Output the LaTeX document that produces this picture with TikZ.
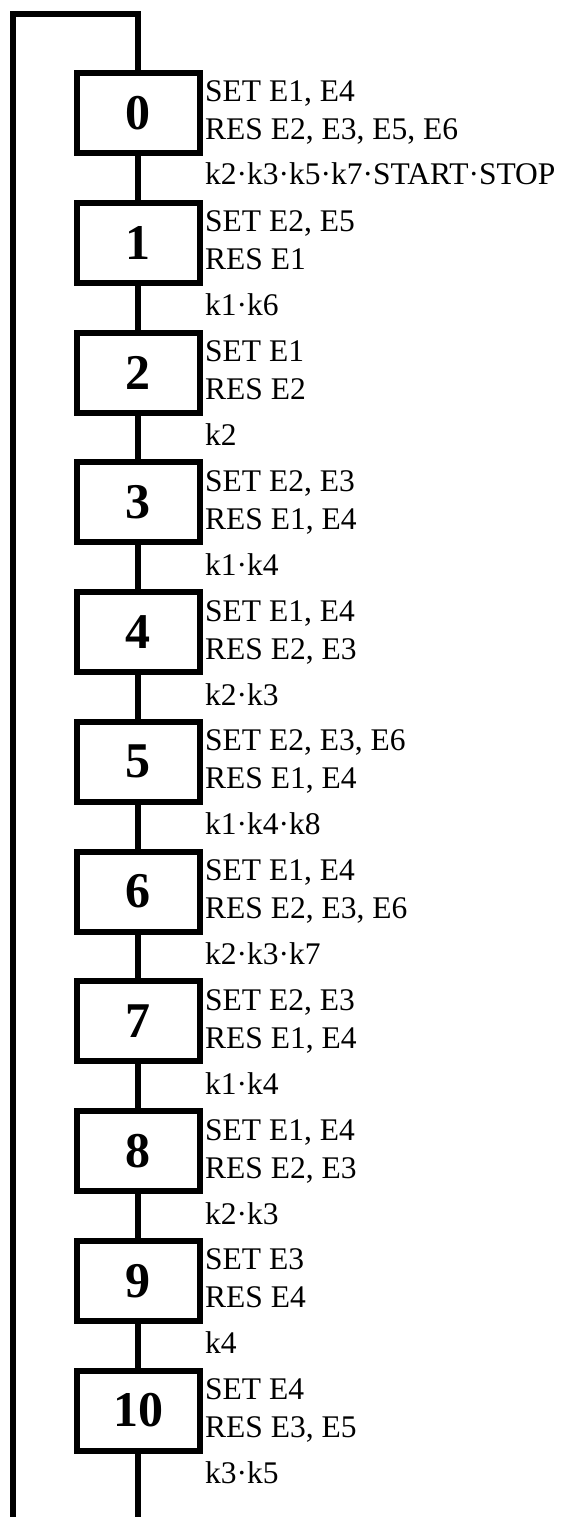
\documentclass[tikz,border=0pt]{standalone}
\usepackage{fontspec}
\setmainfont{Liberation Serif}
\usetikzlibrary{positioning}

\begin{document}
\begin{tikzpicture}[x=1pt,y=-1pt]
\tikzset{
  ST/.style={draw=black,line width=6pt,rectangle,minimum width=123pt,minimum height=80pt,inner sep=0pt,font=\fontsize{50}{50}\selectfont\bfseries},
  AC/.style={anchor=base west,inner sep=0pt,font=\fontsize{31.5}{31.5}\selectfont},
  WL/.style={line width=6pt,black},
}
\useasboundingbox (0,0) rectangle (564,1517);

% steps
\node[ST](s0)  at (138, 113.0){0};
\node[ST](s1)  at (138, 242.8){1};
\node[ST](s2)  at (138, 372.5){2};
\node[ST](s3)  at (138, 502.3){3};
\node[ST](s4)  at (138, 632.0){4};
\node[ST](s5)  at (138, 761.8){5};
\node[ST](s6)  at (138, 891.5){6};
\node[ST](s7)  at (138,1021.3){7};
\node[ST](s8)  at (138,1151.0){8};
\node[ST](s9)  at (138,1280.8){9};
\node[ST](s10) at (138,1410.5){10};

% actions
\node[AC](set0)  at (205, 102.0){SET E1, E4};
\node[AC](res0)  at (205, 140.0){RES E2, E3, E5, E6};
\node[AC](set1)  at (205, 231.8){SET E2, E5};
\node[AC](res1)  at (205, 269.8){RES E1};
\node[AC](set2)  at (205, 361.5){SET E1};
\node[AC](res2)  at (205, 399.5){RES E2};
\node[AC](set3)  at (205, 491.3){SET E2, E3};
\node[AC](res3)  at (205, 529.3){RES E1, E4};
\node[AC](set4)  at (205, 621.0){SET E1, E4};
\node[AC](res4)  at (205, 659.0){RES E2, E3};
\node[AC](set5)  at (205, 750.8){SET E2, E3, E6};
\node[AC](res5)  at (205, 788.8){RES E1, E4};
\node[AC](set6)  at (205, 880.5){SET E1, E4};
\node[AC](res6)  at (205, 918.5){RES E2, E3, E6};
\node[AC](set7)  at (205,1010.3){SET E2, E3};
\node[AC](res7)  at (205,1048.3){RES E1, E4};
\node[AC](set8)  at (205,1140.0){SET E1, E4};
\node[AC](res8)  at (205,1178.0){RES E2, E3};
\node[AC](set9)  at (205,1269.8){SET E3};
\node[AC](res9)  at (205,1307.8){RES E4};
\node[AC](set10) at (205,1399.5){SET E4};
\node[AC](res10) at (205,1437.5){RES E3, E5};

% transitions
\node[AC](tr0)  at (205, 185.0){k2·k3·k5·k7·START·STOP};
\node[AC](tr1)  at (205, 315.8){k1·k6};
\node[AC](tr2)  at (205, 445.5){k2};
\node[AC](tr3)  at (205, 575.3){k1·k4};
\node[AC](tr4)  at (205, 705.0){k2·k3};
\node[AC](tr5)  at (205, 834.8){k1·k4·k8};
\node[AC](tr6)  at (205, 964.5){k2·k3·k7};
\node[AC](tr7)  at (205,1094.3){k1·k4};
\node[AC](tr8)  at (205,1224.0){k2·k3};
\node[AC](tr9)  at (205,1353.8){k4};
\node[AC](tr10) at (205,1483.5){k3·k5};

% links
\draw[WL](s0.south)--(s1.north);
\draw[WL](s1.south)--(s2.north);
\draw[WL](s2.south)--(s3.north);
\draw[WL](s3.south)--(s4.north);
\draw[WL](s4.south)--(s5.north);
\draw[WL](s5.south)--(s6.north);
\draw[WL](s6.south)--(s7.north);
\draw[WL](s7.south)--(s8.north);
\draw[WL](s8.south)--(s9.north);
\draw[WL](s9.south)--(s10.north);

% return loop
\coordinate(botR)  at (138,1522);
\coordinate(botL)  at (13,1522);
\coordinate(loopL) at (13,14);
\coordinate(loopR) at (138,14);
\draw[WL](s10.south)--(botR);
\draw[WL](botL)--(loopL)--(loopR)--(s0.north);

\end{tikzpicture}
\end{document}
